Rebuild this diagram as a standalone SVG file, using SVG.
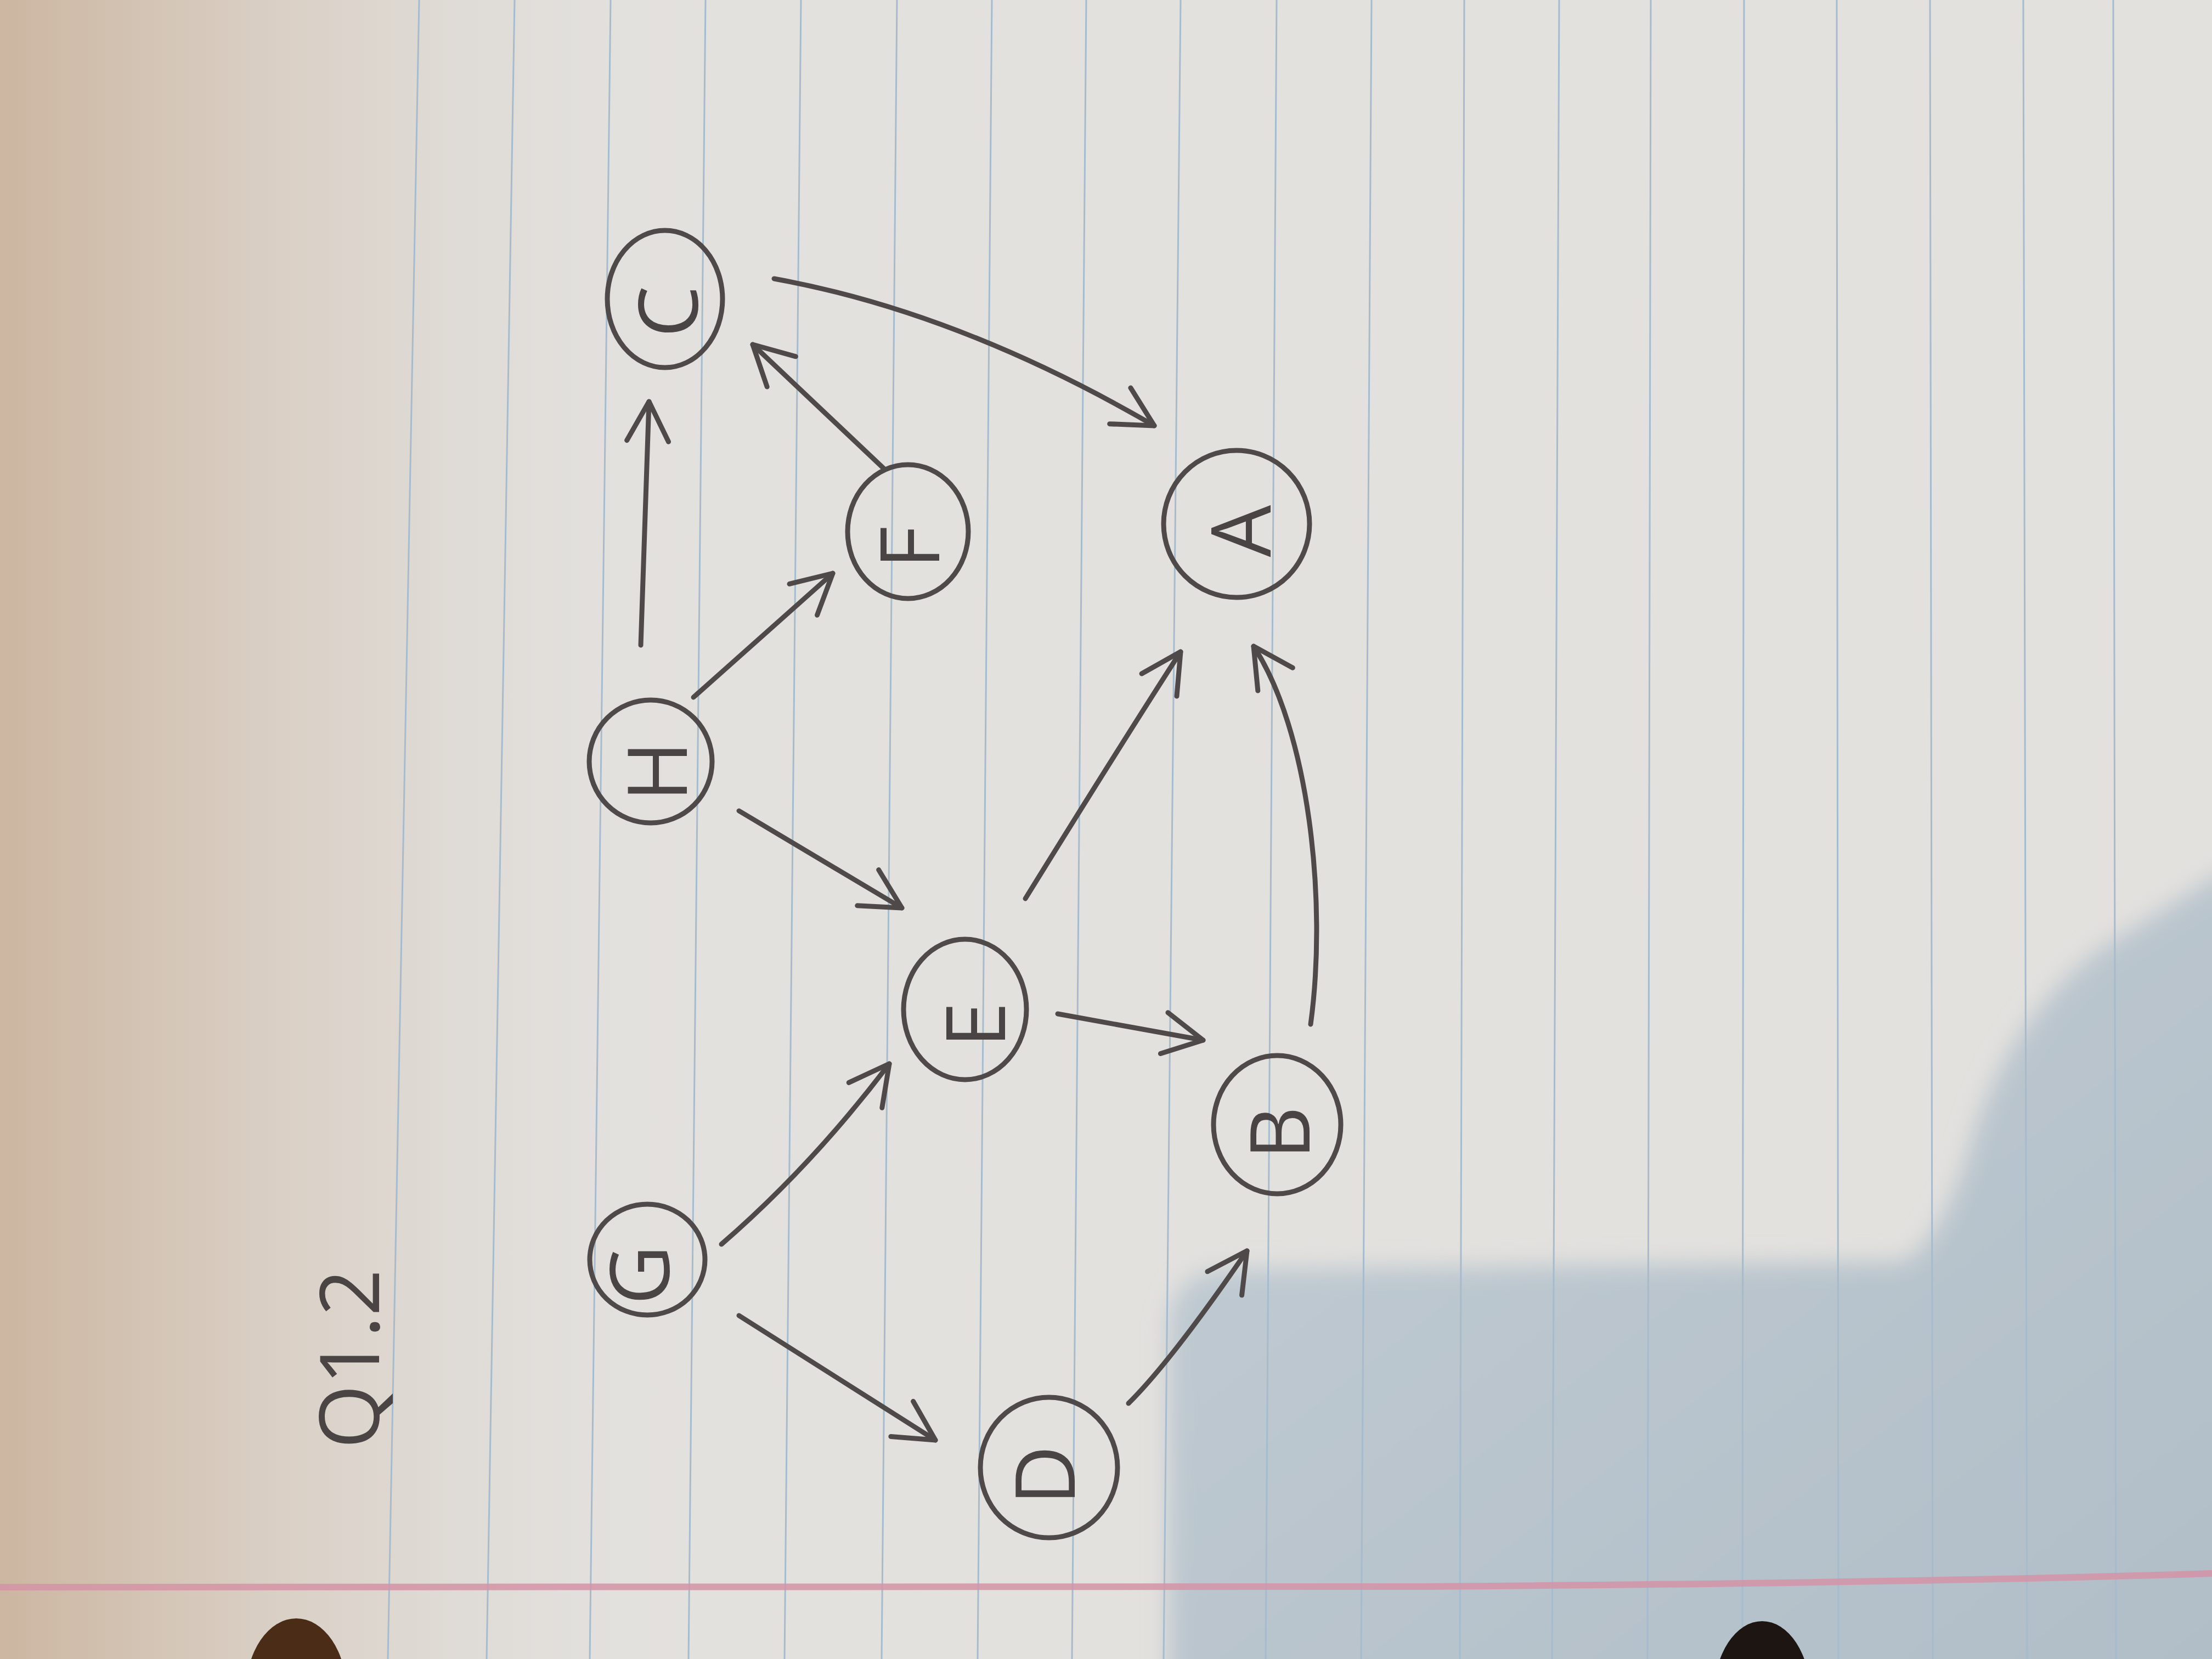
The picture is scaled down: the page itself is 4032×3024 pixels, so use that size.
<svg xmlns="http://www.w3.org/2000/svg" width="4032" height="3024" viewBox="0 0 4032 3024">
  <defs>
    <style>
      .rule { stroke: #a6bbcd; stroke-width: 3; fill: none; }
      .node { fill: none; stroke: #4f4a49; stroke-width: 9; }
      .edge { fill: none; stroke: #4f4a49; stroke-width: 9; stroke-linecap: round; marker-end: url(#ah); }
      .lbl { font-family: "Open Sans", "Liberation Sans", sans-serif; font-weight: 400; font-size: 150px; fill: #4a4544; text-anchor: middle; }
    </style>
    <marker id="ah" markerUnits="userSpaceOnUse" markerWidth="200" markerHeight="200" viewBox="-100 -100 200 200" refX="0" refY="0" orient="auto" overflow="visible">
      <path d="M-72,-38 L0,0 L-72,38" fill="none" stroke="#4f4a49" stroke-width="9" stroke-linecap="round" stroke-linejoin="round"/>
    </marker>
    <linearGradient id="leftWarm" x1="0" y1="0" x2="1" y2="0">
      <stop offset="0" stop-color="#ccb6a1" stop-opacity="1"/>
      <stop offset="0.35" stop-color="#d8ccc0" stop-opacity="0.95"/>
      <stop offset="0.7" stop-color="#dedad5" stop-opacity="0.6"/>
      <stop offset="1" stop-color="#e3e1de" stop-opacity="0"/>
    </linearGradient>
    <linearGradient id="shadowGrad" x1="0" y1="0" x2="1" y2="1">
      <stop offset="0" stop-color="#c3cdd4"/>
      <stop offset="1" stop-color="#b0bdc7"/>
    </linearGradient>
    <filter id="soft" x="-0.1" y="-0.1" width="1.2" height="1.2">
      <feGaussianBlur stdDeviation="22"/>
    </filter>
  </defs>

  <g id="background">
    <rect x="0" y="0" width="4032" height="3024" fill="#e3e1de"/>
    <rect x="0" y="0" width="1300" height="3024" fill="url(#leftWarm)"/>
    <path d="M2130,3100 L2130,2420 Q2135,2318 2240,2315 L3470,2300 Q3545,2260 3600,2060 Q3670,1850 3830,1730 L4100,1560 L4100,3100 Z" fill="url(#shadowGrad)" filter="url(#soft)"/>
    <g id="rules">
      <line class="rule" x1="764" y1="0" x2="707" y2="3024"/>
      <line class="rule" x1="938" y1="0" x2="887" y2="3024"/>
      <line class="rule" x1="1113" y1="0" x2="1075" y2="3024"/>
      <line class="rule" x1="1286" y1="0" x2="1255" y2="3024"/>
      <line class="rule" x1="1460" y1="0" x2="1430" y2="3024"/>
      <line class="rule" x1="1635" y1="0" x2="1607" y2="3024"/>
      <line class="rule" x1="1808" y1="0" x2="1782" y2="3024"/>
      <line class="rule" x1="1980" y1="0" x2="1954" y2="3024"/>
      <line class="rule" x1="2152" y1="0" x2="2121" y2="3024"/>
      <line class="rule" x1="2327" y1="0" x2="2307" y2="3024"/>
      <line class="rule" x1="2500" y1="0" x2="2481" y2="3024"/>
      <line class="rule" x1="2669" y1="0" x2="2661" y2="3024"/>
      <line class="rule" x1="2842" y1="0" x2="2829" y2="3024"/>
      <line class="rule" x1="3009" y1="0" x2="3003" y2="3024"/>
      <line class="rule" x1="3179" y1="0" x2="3176" y2="3024"/>
      <line class="rule" x1="3348" y1="0" x2="3351" y2="3024"/>
      <line class="rule" x1="3518" y1="0" x2="3523" y2="3024"/>
      <line class="rule" x1="3688" y1="0" x2="3695" y2="3024"/>
      <line class="rule" x1="3852" y1="0" x2="3857" y2="3024"/>
    </g>
    <path d="M0,2893 Q1500,2898 2600,2892 Q3500,2885 4032,2868" fill="none" stroke="#d493a6" stroke-width="12" opacity="0.85"/>
    <ellipse cx="540" cy="3085" rx="92" ry="135" fill="#4b2c17"/>
    <ellipse cx="3212" cy="3090" rx="88" ry="135" fill="#1c1512"/>
  </g>

  <text id="title" class="lbl" transform="translate(637,2477) rotate(-90)" x="0" y="0" dy="0.36em">Q1.2</text>

  <g id="connectors">
    <path id="e-H-C" class="edge" d="M1168,1176 L1183,732"/>
    <path id="e-F-C" class="edge" d="M1611,854 L1372,628"/>
    <path id="e-C-A" class="edge" d="M1411,508 Q1748,569 2104,776"/>
    <path id="e-H-F" class="edge" d="M1264,1271 L1518,1045"/>
    <path id="e-H-E" class="edge" d="M1347,1478 L1644,1655"/>
    <path id="e-G-E" class="edge" d="M1315,2268 Q1480,2125 1621,1939"/>
    <path id="e-G-D" class="edge" d="M1347,2398 L1705,2625"/>
    <path id="e-E-B" class="edge" d="M1928,1848 L2193,1896"/>
    <path id="e-E-A" class="edge" d="M1869,1638 Q2038,1365 2152,1188"/>
    <path id="e-B-A" class="edge" d="M2389,1867 C2420,1640 2385,1330 2285,1178"/>
    <path id="e-D-B" class="edge" d="M2057,2558 Q2135,2481 2273,2280"/>
  </g>

  <g id="node-C">
    <ellipse class="node" cx="1212" cy="545" rx="105" ry="125"/>
    <text class="lbl" transform="translate(1218,568) rotate(-90)" dy="0.36em">C</text>
  </g>
  <g id="node-F">
    <ellipse class="node" cx="1655" cy="969" rx="110" ry="122"/>
    <text class="lbl" transform="translate(1658,998) rotate(-90)" dy="0.36em">F</text>
  </g>
  <g id="node-A">
    <ellipse class="node" cx="2254" cy="955" rx="133" ry="134"/>
    <text class="lbl" transform="translate(2262,968) rotate(-90)" dy="0.36em">A</text>
  </g>
  <g id="node-H">
    <ellipse class="node" cx="1186" cy="1388" rx="112" ry="112"/>
    <text class="lbl" transform="translate(1198,1406) rotate(-90)" dy="0.36em">H</text>
  </g>
  <g id="node-E">
    <ellipse class="node" cx="1759" cy="1840" rx="112" ry="128"/>
    <text class="lbl" transform="translate(1778,1868) rotate(-90)" dy="0.36em">E</text>
  </g>
  <g id="node-G">
    <ellipse class="node" cx="1180" cy="2296" rx="105" ry="101"/>
    <text class="lbl" transform="translate(1166,2324) rotate(-90)" dy="0.36em">G</text>
  </g>
  <g id="node-B">
    <ellipse class="node" cx="2328" cy="2050" rx="116" ry="126"/>
    <text class="lbl" transform="translate(2333,2065) rotate(-90)" dy="0.36em">B</text>
  </g>
  <g id="node-D">
    <ellipse class="node" cx="1912" cy="2675" rx="125" ry="128"/>
    <text class="lbl" transform="translate(1905,2689) rotate(-90)" dy="0.36em">D</text>
  </g>
</svg>
